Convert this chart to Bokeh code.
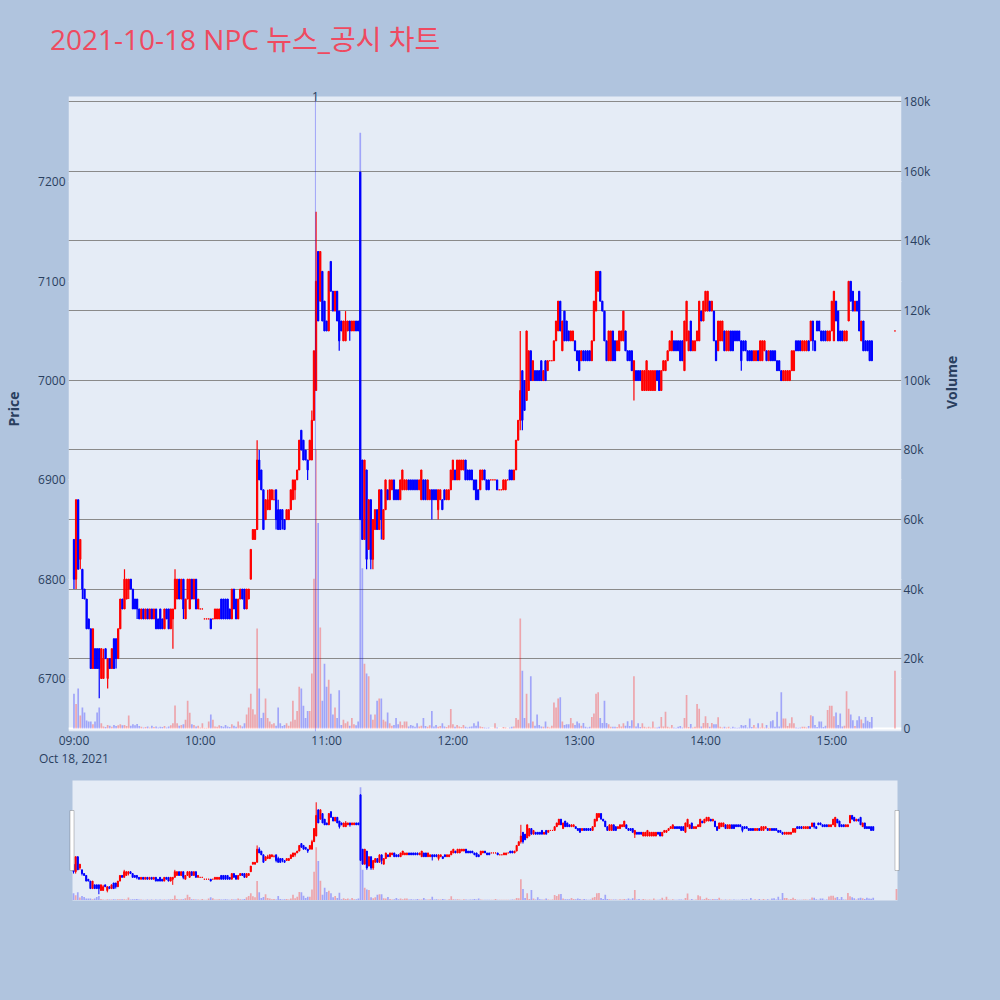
import math
from bokeh.plotting import figure
from bokeh.models import (ColumnDataSource, Range1d, LinearAxis, FixedTicker, Grid,
                          Span, Label, BoxAnnotation, Div)
from bokeh.layouts import column
from bokeh.embed import file_html
from bokeh.resources import INLINE

# ---------------------------------------------------------------- data
# one-minute bars, minutes counted from 09:00; the last bar is the 15:30 closing auction
minutes = list(range(380)) + [390]
hour_ticks = [0, 60, 120, 180, 240, 300, 360]
hour_labels = ["09:00", "10:00", "11:00", "12:00", "13:00", "14:00", "15:00"]
date_label = "Oct 18, 2021"
news_minute = 114.7          # 10:54, news / disclosure marker
news_label = "1"

opens = [
    6840,6800,6880,6820,6810,6790,6780,6760,6750,6710, 6730,6730,6730,6700,6700,6730,6700,6720,6710,6740,
    6740,6720,6750,6780,6770,6780,6790,6800,6790,6780, 6780,6770,6760,6770,6760,6770,6760,6770,6760,6770,
    6760,6770,6760,6750,6770,6770,6750,6760,6770,6780, 6800,6780,6800,6760,6780,6770,6800,6780,6800,6770,
    6770,6770,6760,6760,6760,6760,6760,6760,6760,6760, 6780,6780,6780,6780,6770,6760,6790,6780,6760,6780,
    6790,6790,6770,6780,6800,6840,6840,6850,6920,6910, 6890,6860,6870,6870,6880,6880,6890,6870,6870,6870,
    6860,6860,6860,6870,6880,6890,6900,6910,6950,6940, 6930,6920,6920,6920,6960,6990,7130,7080,7110,7080,
    7060,7050,7120,7090,7070,7090,7070,7060,7040,7040, 7050,7060,7050,7050,7060,7060,7210,6920,6840,6910,
    6830,6880,6820,6850,6870,6850,6890,6840,6870,6890, 6880,6890,6900,6890,6890,6880,6890,6890,6890,6900,
    6900,6900,6900,6900,6890,6880,6900,6900,6880,6880, 6890,6890,6890,6870,6880,6880,6890,6880,6880,6890,
    6900,6910,6900,6900,6910,6910,6920,6910,6910,6910, 6900,6900,6890,6890,6900,6910,6900,6900,6900,6900,
    6900,6900,6890,6890,6890,6890,6900,6910,6910,6900, 6910,6940,6960,7010,7000,6980,6990,7030,7000,7010,
    7010,7010,7020,7000,7020,7010,7020,7020,7020,7040, 7050,7080,7030,7070,7060,7050,7040,7040,7040,7030,
    7030,7020,7030,7030,7030,7030,7020,7040,7070,7090, 7110,7080,7070,7040,7020,7020,7050,7040,7030,7030,
    7040,7040,7050,7030,7030,7030,7000,7010,7010,7010, 6990,6990,6990,6990,6990,6990,6990,7010,7010,6990,
    7010,7010,7020,7030,7030,7040,7040,7040,7040,7040, 7010,7040,7030,7060,7030,7030,7040,7040,7070,7060,
    7070,7070,7080,7070,7070,7040,7030,7040,7040,7050, 7030,7030,7050,7050,7050,7050,7050,7040,7040,7040,
    7030,7030,7030,7020,7020,7030,7020,7020,7030,7030, 7020,7030,7030,7030,7020,7020,7010,7000,7000,7000,
    7000,7010,7010,7040,7040,7040,7030,7030,7030,7040, 7040,7060,7040,7060,7060,7050,7050,7050,7040,7040,
    7050,7040,7080,7070,7050,7050,7040,7040,7060,7100, 7090,7070,7080,7090,7040,7060,7040,7040,7040,7040,
    7050,
]
highs = [
    6840,6880,6880,6840,6810,6790,6780,6760,6750,6750, 6730,6730,6730,6730,6730,6730,6720,6720,6730,6740,
    6740,6750,6780,6780,6810,6800,6800,6800,6790,6780, 6780,6770,6770,6770,6770,6770,6770,6770,6770,6770,
    6760,6770,6760,6770,6770,6770,6770,6770,6810,6800, 6800,6800,6800,6780,6800,6800,6800,6800,6800,6780,
    6770,6770,6760,6760,6760,6760,6760,6770,6770,6770, 6780,6780,6780,6780,6770,6790,6790,6780,6780,6790,
    6790,6790,6790,6790,6830,6850,6850,6940,6930,6910, 6890,6880,6890,6890,6890,6890,6890,6880,6870,6870,
    6860,6870,6870,6890,6900,6900,6910,6940,6950,6940, 6930,6920,6940,6970,7030,7170,7130,7130,7110,7080,
    7060,7110,7120,7090,7090,7090,7070,7060,7060,7070, 7060,7060,7060,7060,7060,7060,7210,6920,6920,6910,
    6880,6880,6860,6870,6870,6890,6890,6870,6900,6890, 6900,6900,6900,6890,6890,6900,6910,6900,6900,6900,
    6900,6900,6900,6900,6900,6910,6900,6900,6900,6890, 6890,6890,6890,6890,6890,6880,6890,6890,6890,6910,
    6920,6910,6920,6920,6920,6920,6920,6910,6910,6910, 6900,6900,6890,6910,6910,6910,6900,6900,6900,6900,
    6900,6900,6890,6890,6900,6900,6900,6910,6910,6910, 6940,6960,7050,7010,7000,7050,7030,7030,7020,7010,
    7010,7010,7020,7010,7020,7020,7020,7020,7040,7060, 7080,7080,7060,7070,7060,7050,7050,7050,7040,7030,
    7030,7030,7030,7030,7030,7030,7040,7080,7110,7110, 7110,7080,7070,7040,7050,7050,7050,7040,7040,7050,
    7050,7070,7050,7030,7030,7030,7020,7010,7010,7010, 7010,7010,7020,7010,7010,7010,7010,7010,7010,7010,
    7020,7020,7030,7040,7050,7040,7040,7040,7040,7040, 7060,7080,7050,7060,7040,7040,7050,7080,7070,7080,
    7090,7090,7080,7080,7070,7040,7060,7060,7060,7050, 7050,7050,7050,7050,7050,7050,7050,7040,7040,7040,
    7030,7030,7030,7030,7030,7030,7040,7040,7040,7030, 7030,7030,7030,7030,7020,7020,7010,7010,7010,7010,
    7010,7030,7030,7040,7040,7040,7040,7040,7040,7040, 7060,7060,7040,7060,7060,7050,7050,7050,7050,7050,
    7080,7090,7080,7070,7050,7050,7050,7050,7100,7100, 7090,7080,7080,7090,7060,7060,7040,7040,7040,7040,
    7050,
]
lows = [
    6790,6790,6810,6810,6780,6780,6750,6750,6710,6710, 6710,6710,6680,6700,6700,6720,6690,6710,6710,6710,
    6710,6720,6750,6770,6770,6780,6780,6790,6770,6770, 6760,6760,6760,6760,6760,6760,6760,6760,6760,6750,
    6750,6750,6750,6750,6760,6750,6750,6730,6770,6780, 6780,6780,6760,6760,6780,6770,6780,6780,6770,6770,
    6770,6770,6760,6760,6760,6750,6760,6760,6760,6760, 6760,6760,6760,6760,6760,6760,6770,6760,6760,6780,
    6780,6770,6770,6780,6800,6840,6840,6850,6900,6890, 6850,6860,6870,6870,6880,6880,6850,6850,6850,6850,
    6850,6860,6860,6870,6880,6880,6900,6910,6930,6920, 6920,6900,6920,6920,6960,6990,7060,7080,7060,7050,
    7050,7050,7090,7070,7070,7060,7030,7050,7040,7040, 7050,7040,7050,7050,7050,7050,6860,6840,6840,6810,
    6830,6810,6810,6850,6850,6850,6840,6840,6870,6880, 6880,6890,6880,6880,6880,6880,6890,6890,6890,6890,
    6890,6890,6890,6890,6890,6880,6880,6880,6880,6880, 6860,6880,6880,6860,6880,6870,6880,6880,6880,6890,
    6900,6900,6900,6900,6910,6910,6900,6900,6900,6900, 6890,6880,6880,6890,6900,6900,6890,6890,6900,6900,
    6900,6890,6890,6890,6890,6890,6900,6900,6900,6900, 6910,6940,6950,6950,6970,6980,6990,7000,7000,7000,
    7000,7000,7000,7000,7000,7010,7020,7020,7020,7040, 7050,7050,7030,7040,7040,7040,7040,7040,7030,7020,
    7010,7020,7020,7020,7020,7020,7020,7040,7070,7090, 7080,7070,7040,7020,7020,7020,7020,7020,7030,7030,
    7040,7040,7030,7020,7020,7010,6980,7000,7000,7000, 6990,6990,6990,6990,6990,6990,6990,7000,6990,6990,
    7010,7010,7020,7030,7030,7030,7030,7030,7020,7020, 7010,7040,7030,7030,7030,7030,7040,7040,7060,7060,
    7070,7070,7070,7070,7040,7020,7030,7040,7040,7030, 7030,7030,7030,7030,7040,7040,7040,7010,7030,7030,
    7020,7020,7020,7020,7020,7020,7020,7020,7030,7020, 7020,7020,7020,7020,7010,7010,7000,7000,7000,7000,
    7000,7010,7010,7030,7030,7030,7030,7030,7030,7030, 7040,7030,7030,7050,7050,7040,7040,7040,7040,7040,
    7050,7040,7060,7040,7040,7040,7040,7040,7060,7080, 7070,7070,7070,7050,7040,7030,7030,7030,7020,7020,
    7050,
]
closes = [
    6800,6880,6810,6840,6790,6780,6750,6750,6710,6750, 6710,6710,6710,6730,6720,6720,6720,6710,6730,6710,
    6720,6750,6780,6770,6800,6800,6800,6790,6770,6770, 6770,6760,6770,6760,6770,6760,6770,6760,6770,6750,
    6750,6750,6750,6770,6760,6750,6770,6770,6800,6800, 6780,6800,6770,6780,6800,6800,6780,6800,6770,6780,
    6770,6770,6760,6760,6760,6750,6760,6770,6770,6770, 6760,6760,6760,6760,6760,6790,6770,6760,6780,6790,
    6780,6770,6790,6790,6830,6850,6850,6920,6900,6890, 6850,6880,6880,6890,6890,6880,6860,6850,6850,6860,
    6850,6870,6870,6890,6900,6900,6910,6940,6930,6920, 6920,6910,6940,6960,7030,7100,7060,7130,7060,7050,
    7050,7110,7090,7070,7090,7060,7040,7050,7060,7060, 7060,7050,7060,7060,7050,7050,6860,6840,6920,6820,
    6880,6820,6860,6870,6850,6890,6860,6870,6900,6880, 6900,6900,6880,6880,6880,6900,6910,6900,6900,6890,
    6890,6890,6890,6890,6900,6910,6880,6880,6900,6890, 6880,6880,6880,6890,6890,6870,6880,6890,6890,6910,
    6920,6900,6920,6920,6920,6920,6900,6900,6900,6900, 6890,6880,6880,6910,6910,6900,6890,6890,6900,6900,
    6900,6890,6890,6890,6900,6900,6900,6900,6900,6910, 6940,6960,6990,6960,6970,7050,7030,7000,7020,7000,
    7000,7000,7000,7010,7000,7020,7020,7020,7040,7060, 7080,7050,7060,7040,7040,7040,7050,7050,7030,7020,
    7010,7030,7020,7020,7020,7020,7040,7080,7110,7110, 7080,7070,7040,7020,7050,7050,7020,7020,7040,7050,
    7050,7070,7030,7020,7020,7010,7020,7000,7000,7000, 7010,7010,7020,7010,7010,7010,7010,7000,6990,7010,
    7020,7020,7030,7040,7050,7030,7030,7030,7020,7020, 7060,7080,7050,7030,7040,7040,7050,7080,7060,7080,
    7090,7090,7070,7080,7040,7020,7060,7060,7060,7030, 7050,7050,7030,7030,7040,7040,7040,7020,7030,7030,
    7020,7020,7020,7030,7030,7020,7040,7040,7040,7020, 7030,7020,7020,7020,7010,7010,7000,7010,7010,7010,
    7010,7030,7030,7030,7030,7030,7040,7040,7040,7030, 7060,7040,7030,7050,7050,7040,7040,7040,7050,7050,
    7080,7090,7060,7040,7040,7040,7050,7050,7100,7080, 7070,7080,7070,7050,7060,7030,7030,7030,7020,7020,
    7050,
]
volumes = [
    10000,7000,11500,3700,6000,4600,2300,2000,2000,1200, 2000,4600,6000,1500,600,400,1000,800,500,1000,
    700,900,1200,900,1000,700,3700,800,1200,900, 1300,700,500,300,400,600,300,800,400,600,
    300,500,400,700,300,600,900,1500,6600,1500, 800,1000,1200,2500,8000,4500,1200,1000,600,800,
    300,1500,200,200,2000,4000,2500,600,500,900, 700,500,1000,600,400,1200,800,500,2000,900,
    600,1500,4000,6000,10000,5500,4000,28700,11500,3000, 4500,8600,3000,2000,1200,1500,800,6000,1500,700,
    1000,1500,800,2000,8000,2500,5000,12000,11500,6500, 3000,5000,5000,15800,43000,80000,59000,29000,8000,18600,
    12000,14000,10000,4000,6000,3000,11000,1000,2500,1500, 2000,800,3000,1200,900,2000,171000,46000,18600,15800,
    15000,4000,2500,4000,8000,8600,8600,2500,2000,4600, 1500,800,1000,3000,1200,2000,1000,2000,2000,600,
    1000,800,500,1500,600,800,3000,700,500,900, 5000,600,1000,500,700,1500,600,400,900,5600,
    1200,500,1000,600,400,1000,500,300,500,600, 1500,800,2000,600,400,300,200,300,100,100,
    1500,300,100,100,400,300,100,300,500,600, 3000,2500,31600,16600,3000,10000,1500,15000,2000,800,
    4000,1000,600,500,2000,500,300,800,7500,6000, 8600,9000,2000,1000,1200,1200,3000,1500,1000,2000,
    1500,800,1600,500,300,500,3300,4300,10000,10400, 3000,1600,8000,1600,1200,500,500,500,400,1200,
    600,1500,800,2100,700,2400,15000,600,1500,400, 1500,500,300,500,300,2000,300,300,500,3300,
    600,4800,500,300,1000,300,200,500,700,300, 3000,9600,400,1300,300,500,7000,5700,600,1600,
    3500,1600,500,1600,1200,1200,3200,500,300,500, 300,500,200,500,300,200,300,1000,800,1000,
    300,2900,400,1000,300,1500,300,1500,300,1000, 200,2100,2400,500,4800,600,10400,2900,2900,700,
    1500,3200,1500,300,200,300,500,500,300,700, 3800,3500,1000,400,2000,2000,400,800,5300,6500,
    6500,3500,4600,1000,4300,600,800,10700,5700,4000, 2400,700,2400,3500,2600,1500,3300,2200,1900,3300,
    16600,
]
price_ticks = [6700, 6800, 6900, 7000, 7100, 7200]
volume_ticks = [0, 20000, 40000, 60000, 80000, 100000, 120000, 140000, 160000, 180000]
volume_labels = ["0", "20k", "40k", "60k", "80k", "100k", "120k", "140k", "160k", "180k"]

# ---------------------------------------------------------------- style
UP, DOWN = "#FF0000", "#0000FF"
PAGE = "#B0C4DE"
PLOT_BG = "#E5ECF6"
INK = "#2a3f5f"
FONT = "'Open Sans', 'Noto Sans CJK KR', sans-serif"
TITLE = "2021-10-18 NPC 뉴스_공시 차트"

colors = [UP if c >= o else DOWN for o, c in zip(opens, closes)]
source = ColumnDataSource(dict(
    t=minutes, o=opens, h=highs, l=lows, c=closes,
    top=[max(o, c) for o, c in zip(opens, closes)],
    bot=[min(o, c) for o, c in zip(opens, closes)],
    vol=volumes, color=colors,
))

# visible data window of the main chart (price and volume share its height)
price_range = (6646.6, 7286.1)
vol_range = (-860, 181440)
X_RANGE = (-2.6, 393.1)
FRAME_H = 635.0
HEADROOM = 10                      # frame extends a little above the plot area
price_px = (price_range[1] - price_range[0]) / FRAME_H
vol_px = (vol_range[1] - vol_range[0]) / FRAME_H
TITLE_H = 60


def draw_bars(fig, body_width, wick_width, vol_width):
    fig.vbar(x="t", top="vol", bottom=0, width=vol_width, y_range_name="vol",
             fill_color="color", fill_alpha=0.3, line_color=None, source=source)
    fig.segment(x0="t", y0="h", x1="t", y1="l", line_color="color",
                line_width=wick_width, source=source)
    fig.vbar(x="t", top="top", bottom="bot", width=body_width, fill_color="color",
             line_color="color", line_width=1, source=source)


def quiet_axis(ax):
    ax.axis_line_color = None
    ax.major_tick_line_color = None
    ax.minor_tick_line_color = None
    ax.major_tick_out = 0
    ax.major_tick_in = 0
    ax.minor_tick_out = 0
    ax.minor_tick_in = 0
    ax.major_label_text_color = INK
    ax.major_label_text_font = FONT
    ax.major_label_text_font_size = "12px"
    ax.axis_label_text_font = FONT
    ax.axis_label_text_font_size = "14px"
    ax.axis_label_text_font_style = "bold"
    ax.axis_label_text_color = INK


# ---------------------------------------------------------------- heading
heading = Div(text=TITLE, width=1000, height=TITLE_H, margin=0,
              styles={"font-family": FONT, "font-size": "28px", "color": "#EF4A60",
                      "line-height": "38px", "padding-left": "50px", "padding-top": "20px",
                      "box-sizing": "border-box", "white-space": "nowrap",
                      "background-color": PAGE})

# ---------------------------------------------------------------- main chart
p = figure(width=1000, height=770 - TITLE_H,
           x_range=Range1d(*X_RANGE),
           y_range=Range1d(price_range[0], price_range[1] + HEADROOM * price_px),
           output_backend="svg", toolbar_location=None,
           min_border_left=68, min_border_right=99, min_border_top=96 - TITLE_H - HEADROOM,
           min_border_bottom=39,
           background_fill_color=PAGE, border_fill_color=PAGE, outline_line_color=None)
p.extra_y_ranges = {"vol": Range1d(vol_range[0], vol_range[1] + HEADROOM * vol_px)}

# plot area background (leaves a strip above it for the marker label)
p.add_layout(BoxAnnotation(bottom=price_range[0], top=price_range[1], fill_color=PLOT_BG,
                           fill_alpha=1, line_color=None, level="underlay"))

p.xgrid.visible = False
p.ygrid.ticker = FixedTicker(ticks=price_ticks)
p.ygrid.grid_line_color = "white"
p.ygrid.grid_line_width = 1

p.add_layout(Grid(dimension=1, ticker=FixedTicker(ticks=volume_ticks[1:]), y_range_name="vol",
                  grid_line_color="#8a8a8a", grid_line_width=1))
p.add_layout(Span(location=0, dimension="width", y_range_name="vol",
                  line_color="white", line_width=2, level="underlay"))

quiet_axis(p.xaxis[0])
quiet_axis(p.yaxis[0])
p.xaxis.ticker = FixedTicker(ticks=hour_ticks)
p.xaxis.major_label_overrides = dict(zip(hour_ticks, hour_labels))
p.xaxis.major_label_standoff = 0

# second line under the first time tick: the trading date
date_axis = LinearAxis(ticker=FixedTicker(ticks=[hour_ticks[0]]),
                       major_label_overrides={hour_ticks[0]: date_label},
                       major_label_standoff=-2)
quiet_axis(date_axis)
p.add_layout(date_axis, "below")

p.yaxis.ticker = FixedTicker(ticks=price_ticks)
p.yaxis.major_label_standoff = 3
p.yaxis.axis_label = "Price"
p.yaxis.axis_label_standoff = 12

vol_axis = LinearAxis(y_range_name="vol", ticker=FixedTicker(ticks=volume_ticks),
                      major_label_overrides=dict(zip(volume_ticks, volume_labels)),
                      axis_label="Volume", major_label_standoff=2, axis_label_standoff=18)
quiet_axis(vol_axis)
vol_axis.axis_label_orientation = math.pi / 2
p.add_layout(vol_axis, "right")

draw_bars(p, body_width=0.6, wick_width=1.2, vol_width=0.8)

p.segment(x0=[news_minute], y0=[price_range[0]], x1=[news_minute], y1=[price_range[1]],
          line_color=DOWN, line_alpha=0.3, line_width=1)
p.add_layout(Label(x=news_minute, y=price_range[1], text=news_label, text_align="center",
                   text_baseline="middle", text_font=FONT, text_font_size="12px",
                   text_color=INK))

# ---------------------------------------------------------------- range slider overview
px_per_min = 825 / 391.0
s_x0, s_x1 = -0.5, 390.5
s_pad = 4 / px_per_min
s_price_px = (price_range[1] - price_range[0]) / 120.0
s_vol_px = (vol_range[1] - vol_range[0]) / 120.0

s = figure(width=1000, height=230,
           x_range=Range1d(s_x0 - s_pad, s_x1 + s_pad),
           y_range=Range1d(price_range[0] - 5 * s_price_px, price_range[1] + 5 * s_price_px),
           output_backend="svg", toolbar_location=None,
           x_axis_location=None, y_axis_location=None,
           min_border_left=68, min_border_right=99, min_border_top=5, min_border_bottom=95,
           background_fill_color=PAGE, border_fill_color=PAGE, outline_line_color=None)
s.extra_y_ranges = {"vol": Range1d(vol_range[0] - 5 * s_vol_px, vol_range[1] + 5 * s_vol_px)}
s.xgrid.visible = False
s.ygrid.visible = False
s.add_layout(BoxAnnotation(left=s_x0, right=s_x1, bottom=price_range[0], top=price_range[1],
                           fill_color=PLOT_BG, fill_alpha=1, line_color=None, level="underlay"))
draw_bars(s, body_width=0.5, wick_width=1, vol_width=0.8)

handle_top = price_range[1] - 30 * s_price_px
handle_bot = price_range[0] + 30 * s_price_px
for edge in (s_x0, s_x1):
    s.add_layout(BoxAnnotation(left=edge - 2.5 / px_per_min, right=edge + 1.5 / px_per_min,
                               bottom=handle_bot, top=handle_top,
                               fill_color="white", fill_alpha=1,
                               line_color="#444444", line_width=1))

layout = column(heading, p, s, styles={"background-color": PAGE})
open("out.html", "w").write(file_html(layout, INLINE, title="NPC"))
